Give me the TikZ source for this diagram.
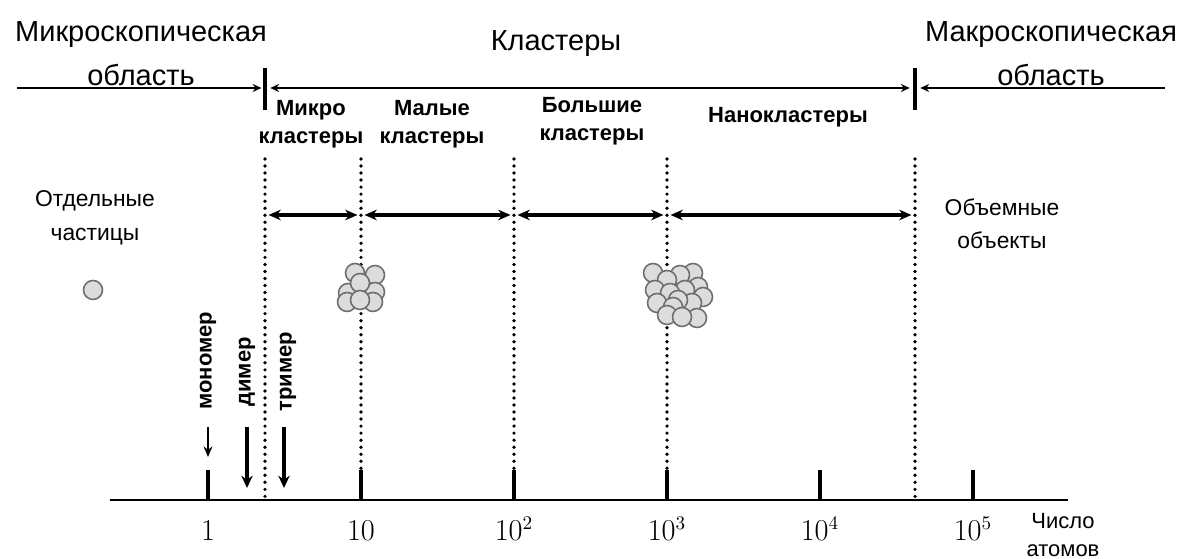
\documentclass[tikz,border=0pt]{standalone}
\usepackage{fontspec}
\setmainfont{Liberation Sans}
\usepackage{amsmath}
\usetikzlibrary{arrows.meta,positioning}
\definecolor{atomfill}{RGB}{220,220,220}
\definecolor{atomedge}{RGB}{110,110,110}

\begin{document}
\begin{tikzpicture}[
    region/.style={font=\fontsize{16.5}{25}\selectfont, align=center},
    kind/.style={font=\fontsize{12.5}{16}\selectfont\bfseries, align=center},
    side/.style={font=\fontsize{13}{19}\selectfont, align=center},
    vlabel/.style={font=\fontsize{12.5}{14}\selectfont\bfseries, rotate=90, anchor=west, inner sep=0pt},
    numlabel/.style={font=\fontsize{16}{18}\selectfont, anchor=base, inner sep=0pt},
    topline/.style={line width=1.1pt, >={Stealth[length=5pt,width=4.5pt]}},
    divider/.style={line width=2.2pt},
    span/.style={<->, line width=2.2pt, >={Stealth[length=7pt,width=6pt]}, shorten >=2pt, shorten <=2pt},
    bound/.style={line width=2.1pt, line cap=round, dash pattern=on 0pt off 4pt},
    axis/.style={line width=1.7pt},
    tick/.style={line width=2.2pt},
    atom/.style={circle, draw=atomedge, fill=atomfill, line width=0.9pt, minimum size=0.38cm, inner sep=0pt},
    thinarrow/.style={->, line width=1.2pt, >={Stealth[length=6pt,width=5pt]}},
    thickarrow/.style={->, line width=2.2pt, >={Stealth[length=7pt,width=6.5pt]}}
]
    \useasboundingbox (0,0) rectangle (23.7,11.18);

    % Regions along the top
    \node[region] (micro) at (2.82,10.10) {Микроскопическая\\область};
    \node[region] (clust) at (11.12,10.30) {Кластеры};
    \node[region] (macro) at (21.02,10.10) {Макроскопическая\\область};

    \coordinate (topL) at (0.34,9.42);
    \coordinate (topA) at (5.3,9.42);
    \coordinate (topB) at (18.3,9.42);
    \coordinate (topR) at (23.3,9.42);
    \draw[topline,->] (topL) -- ([xshift=-2pt]topA);
    \draw[topline,<->] ([xshift=3pt]topA) -- ([xshift=-3pt]topB);
    \draw[topline,<-] ([xshift=3pt]topB) -- (topR);
    \draw[divider] ([yshift=0.40cm]topA) -- ([yshift=-0.44cm]topA);
    \draw[divider] ([yshift=0.40cm]topB) -- ([yshift=-0.44cm]topB);

    % Kinds of clusters
    \node[kind] (kmicro) at (6.22,8.70) {Микро\\кластеры};
    \node[kind] (ksmall) at (8.64,8.70) {Малые\\кластеры};
    \node[kind] (kbig) at (11.84,8.76) {Большие\\кластеры};
    \node[kind] (knano) at (15.76,8.84) {Нанокластеры};

    \node[side] (single) at (1.90,6.82) {Отдельные\\частицы};
    \node[side] (bulk) at (20.04,6.70) {Объемные\\объекты};

    % Axis and decades
    \coordinate (axL) at (2.2,1.18);
    \coordinate (axR) at (21.36,1.18);

    % Boundaries (dotted)
    \foreach \x [count=\i] in {5.3,7.22,10.28,13.34,18.3} {
        \coordinate (dt\i) at (\x,8.0);
        \coordinate (db\i) at (\x,1.18);
        \draw[bound] (dt\i) -- (db\i);
    }

    % Ranges between boundaries
    \coordinate (sp1) at (5.3,6.88);
    \coordinate (sp2) at (7.22,6.88);
    \coordinate (sp3) at (10.28,6.88);
    \coordinate (sp4) at (13.34,6.88);
    \coordinate (sp5) at (18.3,6.88);
    \draw[span] (sp1) -- (sp2);
    \draw[span] (sp2) -- (sp3);
    \draw[span] (sp3) -- (sp4);
    \draw[span] (sp4) -- (sp5);

    \draw[axis] (axL) -- (axR);
    \foreach \k/\lab in {0/1, 1/10, 2/10^2, 3/10^3, 4/10^4, 5/10^5} {
        \coordinate (tk\k) at ({4.16+3.06*\k},1.18);
        \draw[tick] (tk\k) -- ++(0,0.60);
        \node[numlabel] (n\k) at ({4.16+3.06*\k},0.36) {$\lab$};
    }
    \node[font=\fontsize{12.5}{15.5}\selectfont, align=center] (natoms) at (21.26,0.48) {Число\\атомов};

    % Mono-, di-, trimer
    \node[vlabel] (mono) at (4.16,2.98) {мономер};
    \node[vlabel] (di) at (4.94,3.04) {димер};
    \node[vlabel] (tri) at (5.76,2.94) {тример};
    \coordinate (mA) at (4.16,2.64);
    \coordinate (mB) at (4.16,2.04);
    \coordinate (dA) at (4.94,2.64);
    \coordinate (dB) at (4.94,1.42);
    \coordinate (tA) at (5.68,2.64);
    \coordinate (tB) at (5.68,1.42);
    \draw[thinarrow] (mA) -- (mB);
    \draw[thickarrow] (dA) -- (dB);
    \draw[thickarrow] (tA) -- (tB);

    % Atoms
    \node[atom] (lone) at (1.86,5.38) {};
    \foreach \dx/\dy [count=\i] in {0.28/0.26, -0.12/0.30, -0.26/-0.10, 0.28/-0.08,
        -0.28/-0.28, 0.24/-0.28, -0.02/0.10, -0.02/-0.24}
        \node[atom] (s\i) at (7.22+\dx,5.42+\dy) {};
    \foreach \dx/\dy [count=\i] in {-0.50/0.48, 0.30/0.48, 0.04/0.44, -0.22/0.34,
        0.40/0.20, -0.46/0.14, 0.50/0, 0.14/0.14, -0.16/0.08, -0.42/-0.12,
        0.28/-0.12, 0/-0.06, -0.10/-0.20, 0.38/-0.42, -0.22/-0.36, 0.08/-0.40}
        \node[atom] (b\i) at (13.56+\dx,5.24+\dy) {};
\end{tikzpicture}
\end{document}
